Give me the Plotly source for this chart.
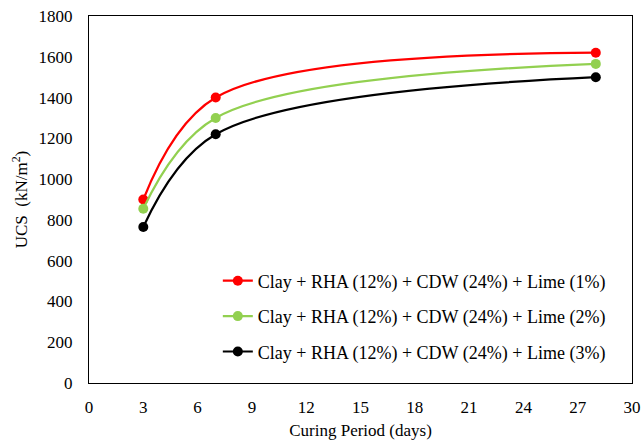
import plotly.graph_objects as go

# Curing periods (days) and unconfined compressive strength (kN/m²)
curing_days = [3, 7, 28]
ucs_lime_1 = [900, 1400, 1620]
ucs_lime_2 = [855, 1300, 1565]
ucs_lime_3 = [765, 1220, 1500]

series_names = [
    "Clay + RHA (12%) + CDW (24%) + Lime (1%)",
    "Clay + RHA (12%) + CDW (24%) + Lime (2%)",
    "Clay + RHA (12%) + CDW (24%) + Lime (3%)",
]
series_colors = ["#ff0000", "#92d050", "#000000"]

x_ticks = list(range(0, 31, 3))
y_ticks = list(range(0, 1801, 200))

font_family = "Liberation Serif"

fig = go.Figure()
for i, (name, values, color) in enumerate(
    zip(series_names, [ucs_lime_1, ucs_lime_2, ucs_lime_3], series_colors)
):
    fig.add_trace(
        go.Scatter(
            x=curing_days,
            y=values,
            name=name,
            mode="lines+markers",
            line=dict(color=color, width=2.2, shape="spline", smoothing=1),
            marker=dict(color=color, size=10),
            legendgroup=f"g{i}",
        )
    )

axis_common = dict(
    showgrid=False,
    zeroline=False,
    showline=True,
    linecolor="#000000",
    linewidth=1.3,
    mirror=True,
    ticks="",
    automargin=False,
    tickfont=dict(family=font_family, size=17, color="#000000"),
)

fig.update_layout(
    width=644,
    height=440,
    margin=dict(l=89, r=12, t=16, b=57),
    paper_bgcolor="#ffffff",
    plot_bgcolor="#ffffff",
    font=dict(family=font_family, color="#000000"),
    showlegend=True,
    legend=dict(
        x=0.961,
        y=0.034,
        xanchor="right",
        yanchor="bottom",
        bgcolor="rgba(255,255,255,0)",
        font=dict(family=font_family, size=18, color="#000000"),
        traceorder="grouped",
        tracegroupgap=9,
        itemwidth=30,
    ),
    xaxis=dict(
        range=[0, 30],
        tickvals=x_ticks,
        ticklabelstandoff=8,
        title=dict(
            text="Curing Period (days)",
            font=dict(family=font_family, size=17, color="#000000"),
            standoff=8,
        ),
        **axis_common,
    ),
    yaxis=dict(
        range=[0, 1800],
        tickvals=y_ticks,
        ticklabelstandoff=12,
        title=dict(
            text="UCS&nbsp; (kN/m<sup>2</sup>)",
            font=dict(family=font_family, size=17, color="#000000"),
            standoff=6,
        ),
        **axis_common,
    ),
)

fig.write_html("out.html")
